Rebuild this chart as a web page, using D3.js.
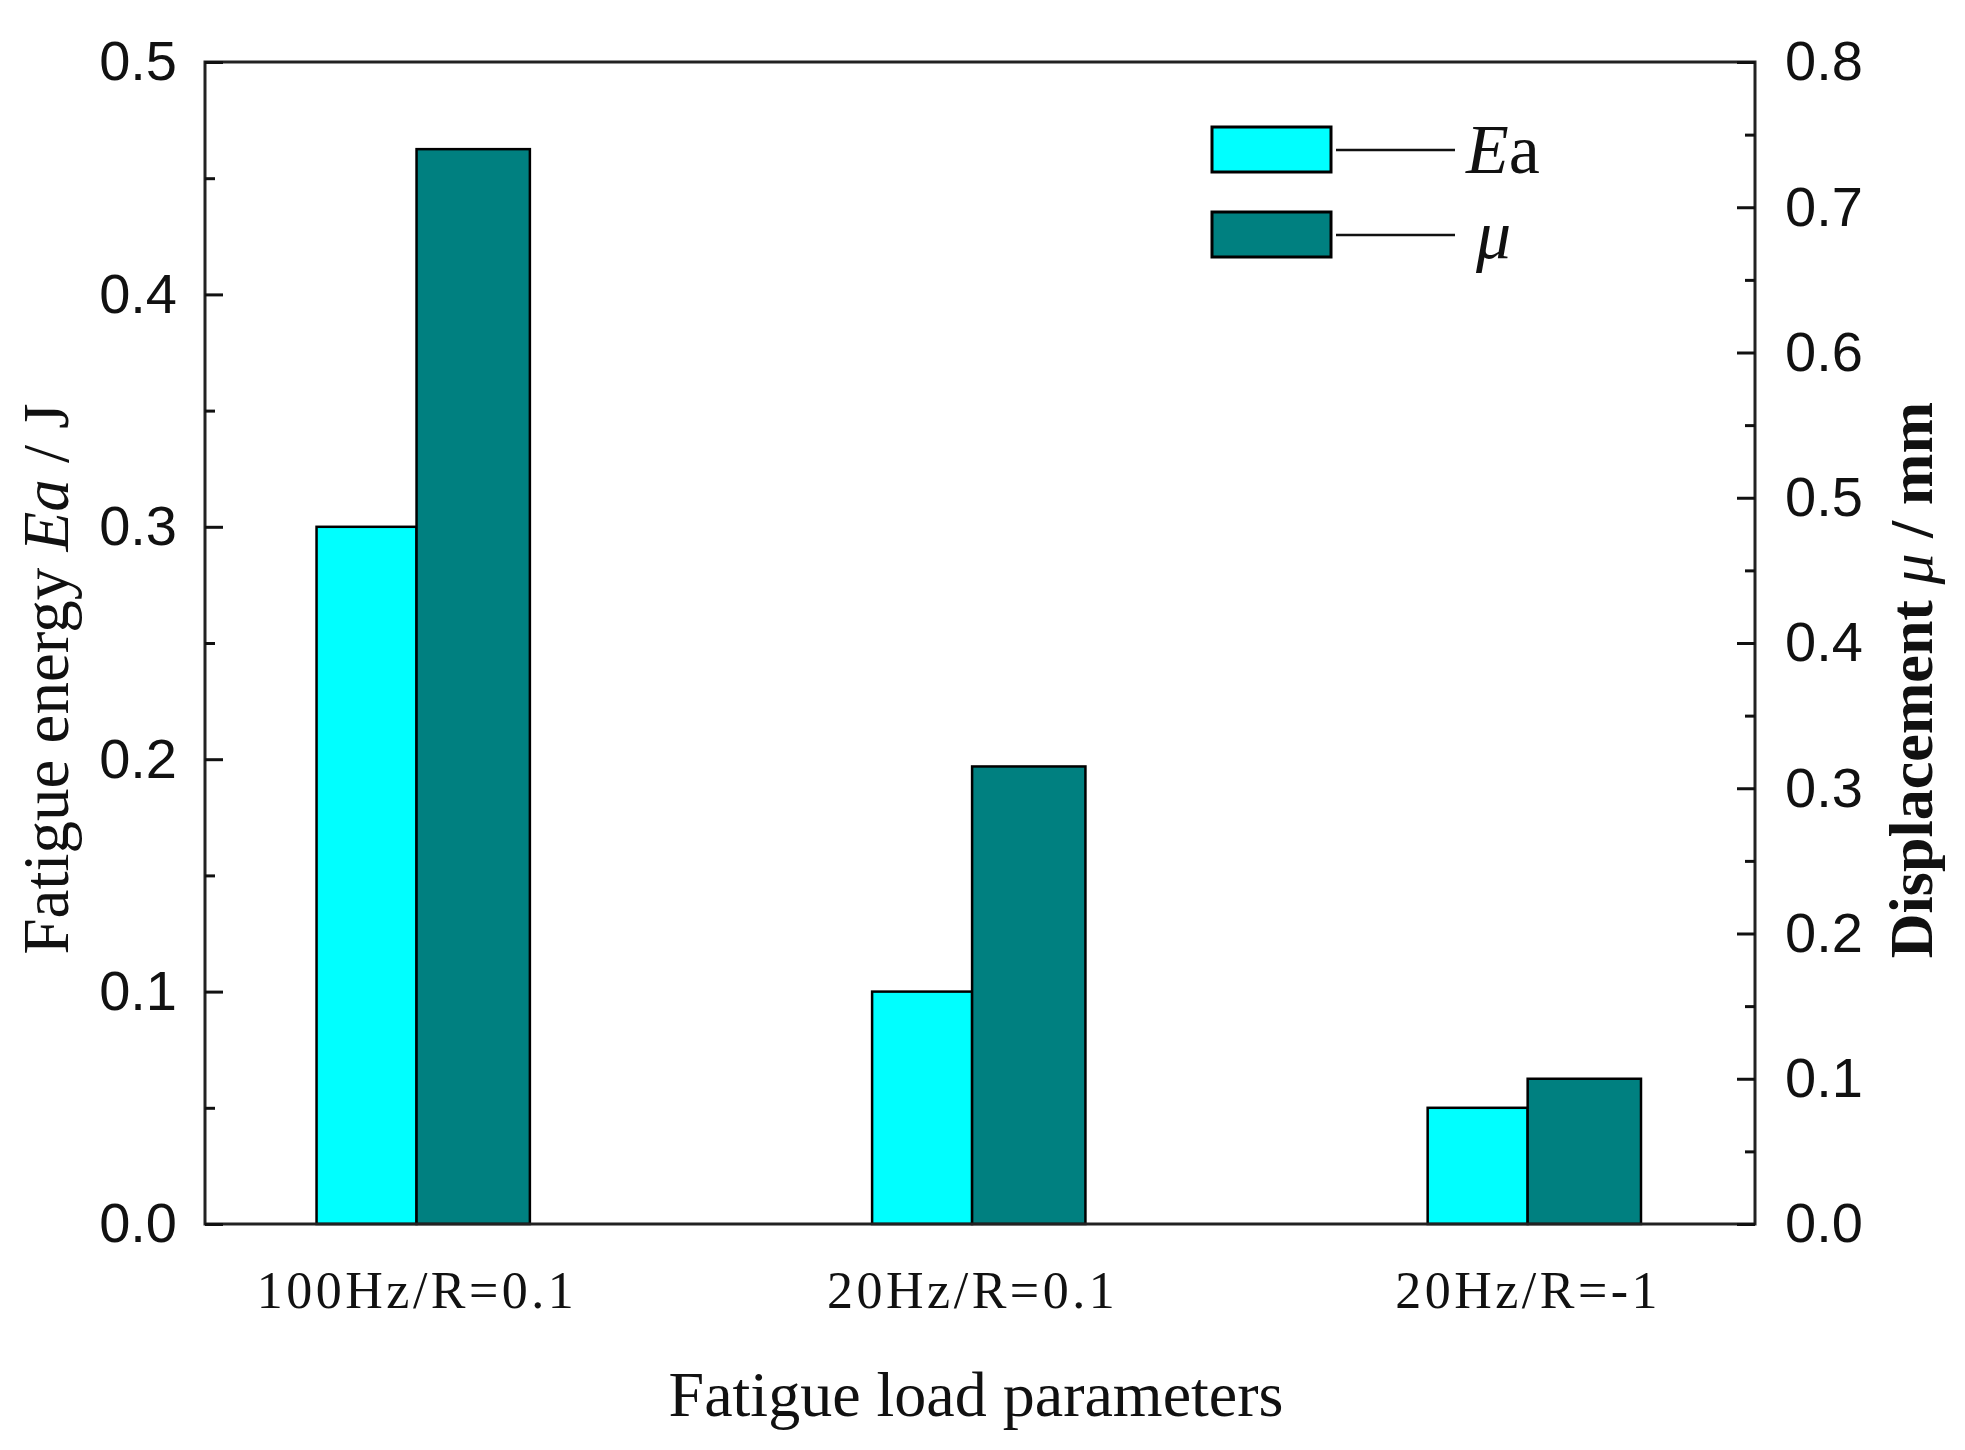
<!DOCTYPE html>
<html>
<head>
<meta charset="utf-8">
<script src="https://cdn.jsdelivr.net/npm/d3@7"></script>
<style>
  html, body { margin: 0; padding: 0; background: #fff; }
  svg { display: block; }
</style>
</head>
<body>
<script>
// ---- data ----
const categories = ["100Hz/R=0.1", "20Hz/R=0.1", "20Hz/R=-1"];
const energyEa = [0.3, 0.1, 0.05];          // left axis, J
const displacementMu = [0.74, 0.315, 0.1];  // right axis, mm
const leftMajorTicks = [0, 0.1, 0.2, 0.3, 0.4, 0.5];
const leftMinorTicks = [0.05, 0.15, 0.25, 0.35, 0.45];
const rightMajorTicks = [0, 0.1, 0.2, 0.3, 0.4, 0.5, 0.6, 0.7, 0.8];
const rightMinorTicks = [0.05, 0.15, 0.25, 0.35, 0.45, 0.55, 0.65, 0.75];
const seriesLabels = ["Ea", "μ"];
const seriesColors = ["#00ffff", "#008080"];

// ---- layout ----
const W = 1965, H = 1450;
const L = 205, R = 1755, T = 62, B = 1224;

const svg = d3.select("body").append("svg").attr("width", W).attr("height", H);

const x = d3.scalePoint().domain(categories).range([L, R]).padding(0.395).align(0.482);
const step = x.step();
const wEa = step * 0.18, wMu = step * 0.204;
const yL = d3.scaleLinear().domain([0, 0.5]).range([B, T]);
const yR = d3.scaleLinear().domain([0, 0.8]).range([B, T]);

// bars
svg.append("g").selectAll("rect").data(categories).join("rect")
  .attr("x", d => x(d) - wEa)
  .attr("width", wEa)
  .attr("y", (d, i) => yL(energyEa[i]))
  .attr("height", (d, i) => B - yL(energyEa[i]))
  .attr("fill", seriesColors[0]).attr("stroke", "#000").attr("stroke-width", 2.5);

svg.append("g").selectAll("rect").data(categories).join("rect")
  .attr("x", d => x(d))
  .attr("width", wMu)
  .attr("y", (d, i) => yR(displacementMu[i]))
  .attr("height", (d, i) => B - yR(displacementMu[i]))
  .attr("fill", seriesColors[1]).attr("stroke", "#000").attr("stroke-width", 2.5);

// frame
svg.append("rect").attr("x", L).attr("y", T).attr("width", R - L).attr("height", B - T)
  .attr("fill", "none").attr("stroke", "#222").attr("stroke-width", 3);

const fmt = d3.format(".1f");
const sansFont = "'Liberation Sans', Arial, sans-serif";
const serifFont = "'Liberation Serif', 'Times New Roman', serif";

function styleAxis(g) {
  g.select(".domain").remove();
  g.selectAll(".tick line").attr("stroke", "#111").attr("stroke-width", 3);
}

// left axis
const gL = svg.append("g").attr("transform", `translate(${L},0)`)
  .call(d3.axisLeft(yL).tickValues(leftMajorTicks).tickFormat(fmt).tickSize(-18).tickPadding(28));
styleAxis(gL);
gL.selectAll("text").attr("font-family", sansFont).attr("font-size", 56).attr("fill", "#111");
const gLm = svg.append("g").attr("transform", `translate(${L},0)`)
  .call(d3.axisLeft(yL).tickValues(leftMinorTicks).tickFormat("").tickSize(-10));
styleAxis(gLm);

// right axis
const gR = svg.append("g").attr("transform", `translate(${R},0)`)
  .call(d3.axisRight(yR).tickValues(rightMajorTicks).tickFormat(fmt).tickSize(-18).tickPadding(30));
styleAxis(gR);
gR.selectAll("text").attr("font-family", sansFont).attr("font-size", 56).attr("fill", "#111");
const gRm = svg.append("g").attr("transform", `translate(${R},0)`)
  .call(d3.axisRight(yR).tickValues(rightMinorTicks).tickFormat("").tickSize(-10));
styleAxis(gRm);

// bottom axis (category labels)
const gB = svg.append("g").attr("transform", `translate(0,${B})`)
  .call(d3.axisBottom(x).tickSize(0).tickPadding(47));
gB.select(".domain").remove();
gB.selectAll("text").attr("font-family", serifFont).attr("font-size", 52)
  .attr("letter-spacing", 3.5).attr("fill", "#111");

// axis titles
svg.append("text")
  .attr("x", (L + R) / 2 - 4).attr("y", 1416)
  .attr("text-anchor", "middle")
  .attr("font-family", serifFont).attr("font-size", 64).attr("fill", "#111")
  .text("Fatigue load parameters");

const lt = svg.append("text")
  .attr("transform", `translate(68,${(T + B) / 2 + 36}) rotate(-90)`)
  .attr("text-anchor", "middle")
  .attr("font-family", serifFont).attr("font-size", 65).attr("fill", "#111");
lt.append("tspan").text("Fatigue energy ");
lt.append("tspan").attr("font-style", "italic").text("Ea");
lt.append("tspan").text(" / J");

const rt = svg.append("text")
  .attr("transform", `translate(1932,${(T + B) / 2 + 37}) rotate(-90)`)
  .attr("text-anchor", "middle")
  .attr("font-family", serifFont).attr("font-size", 62).attr("font-weight", "bold").attr("fill", "#111");
rt.append("tspan").text("Displacement ");
rt.append("tspan").attr("font-style", "italic").attr("font-weight", "normal").text("μ");
rt.append("tspan").text(" / mm");

// legend
const lg = svg.append("g");
seriesLabels.forEach((lab, i) => {
  const y0 = 127 + i * 85;
  lg.append("rect").attr("x", 1212).attr("y", y0).attr("width", 119).attr("height", 45)
    .attr("fill", seriesColors[i]).attr("stroke", "#000").attr("stroke-width", 3);
  lg.append("line").attr("x1", 1336).attr("x2", 1455).attr("y1", y0 + 23).attr("y2", y0 + 23)
    .attr("stroke", "#111").attr("stroke-width", 2.5);
  const t = lg.append("text").attr("x", 1466).attr("y", y0 + 46)
    .attr("font-family", serifFont).attr("font-size", 70).attr("fill", "#111");
  if (lab === "Ea") {
    t.append("tspan").attr("font-style", "italic").text("E");
    t.append("tspan").text("a");
  } else {
    t.append("tspan").attr("font-style", "italic").attr("dx", 10).text(lab);
  }
});
</script>
</body>
</html>
